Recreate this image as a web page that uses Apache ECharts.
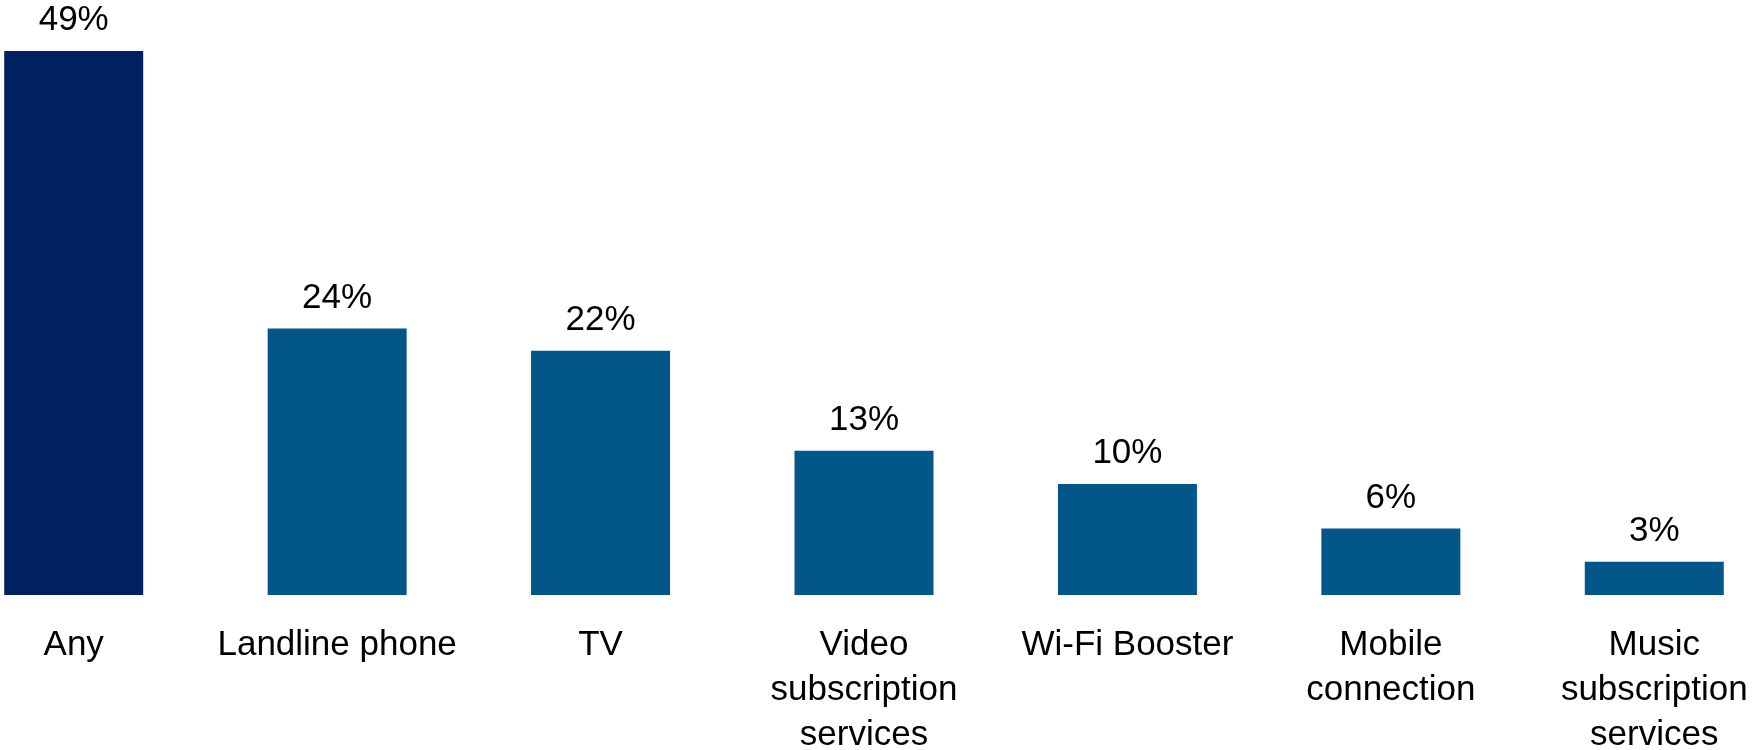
<!DOCTYPE html>
<html>
<head>
<meta charset="utf-8">
<script src="https://cdn.jsdelivr.net/npm/echarts@6/dist/echarts.min.js"></script>
<style>
  html, body { margin: 0; padding: 0; background: #ffffff; }
  #chart { width: 1753px; height: 750px; }
</style>
</head>
<body>
<div id="chart"></div>
<script>
// Services bundled with the broadband subscription (share of respondents, %)
const categories = [
  'Any',
  'Landline phone',
  'TV',
  'Video\nsubscription\nservices',
  'Wi-Fi Booster',
  'Mobile\nconnection',
  'Music\nsubscription\nservices'
];
const values = [49, 24, 22, 13, 10, 6, 3];
const barColors = ['#002060', '#02568A', '#02568A', '#02568A', '#02568A', '#02568A', '#02568A'];

const FONT = '"Liberation Sans", Arial, sans-serif';

const chart = echarts.init(document.getElementById('chart'), null, { renderer: 'canvas' });

chart.setOption({
  animation: false,
  backgroundColor: '#ffffff',
  grid: {
    left: -58,
    top: 40,
    width: 1844,
    height: 555,
    containLabel: false,
    outerBoundsMode: 'none'
  },
  xAxis: {
    type: 'category',
    data: categories,
    axisLine: { show: false },
    axisTick: { show: false },
    axisLabel: {
      interval: 0,
      margin: 28,
      color: '#000000',
      fontFamily: FONT,
      fontSize: 35,
      lineHeight: 45
    }
  },
  yAxis: {
    type: 'value',
    min: 0,
    max: 50,
    show: false,
    splitLine: { show: false }
  },
  series: [{
    type: 'bar',
    data: values.map((v, i) => ({ value: v, itemStyle: { color: barColors[i] } })),
    barWidth: 139,
    label: {
      show: true,
      position: 'top',
      distance: 13,
      color: '#000000',
      fontFamily: FONT,
      fontSize: 35,
      formatter: p => p.value + '%'
    }
  }]
});
</script>
</body>
</html>
